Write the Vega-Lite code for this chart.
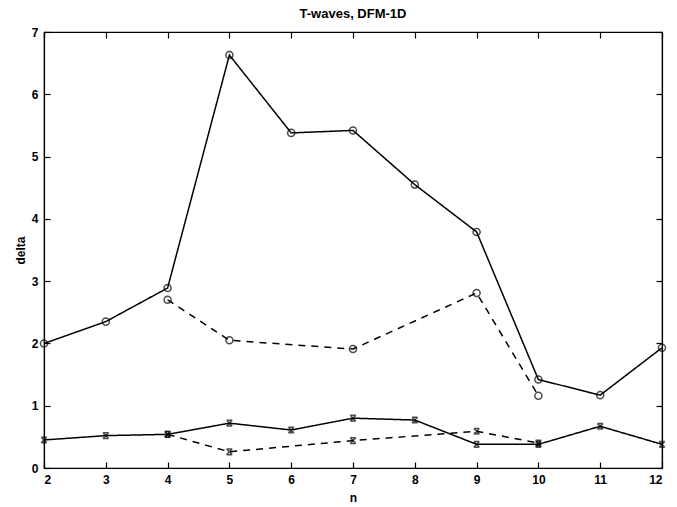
{
  "$schema": "https://vega.github.io/schema/vega-lite/v6.json",
  "autosize": "none",
  "width": 618,
  "height": 436,
  "padding": {"left": 44, "top": 32, "right": 15, "bottom": 39},
  "background": "white",
  "title": {"text": "T-waves, DFM-1D", "font": "Liberation Sans", "fontSize": 13, "fontWeight": "bold", "color": "black", "offset": 5},
  "config": {
    "view": {"stroke": "black", "strokeWidth": 1.2},
    "axis": {"labelFont": "Liberation Sans", "labelFontSize": 12, "labelFontWeight": "bold", "labelColor": "black", "titleFont": "Liberation Sans", "titleFontSize": 12, "titleFontWeight": "bold", "titleColor": "black", "domainColor": "black", "tickColor": "black", "grid": false, "tickSize": -6, "labelPadding": 12, "domainWidth": 1.2, "tickWidth": 1.2}
  },
  "data": {"values": [
    {"n": 2, "delta": 2.0, "series": "solid_o", "style": "solid", "marker": "o"},
    {"n": 3, "delta": 2.35, "series": "solid_o", "style": "solid", "marker": "o"},
    {"n": 4, "delta": 2.89, "series": "solid_o", "style": "solid", "marker": "o"},
    {"n": 5, "delta": 6.63, "series": "solid_o", "style": "solid", "marker": "o"},
    {"n": 6, "delta": 5.38, "series": "solid_o", "style": "solid", "marker": "o"},
    {"n": 7, "delta": 5.42, "series": "solid_o", "style": "solid", "marker": "o"},
    {"n": 8, "delta": 4.55, "series": "solid_o", "style": "solid", "marker": "o"},
    {"n": 9, "delta": 3.79, "series": "solid_o", "style": "solid", "marker": "o"},
    {"n": 10, "delta": 1.42, "series": "solid_o", "style": "solid", "marker": "o"},
    {"n": 11, "delta": 1.17, "series": "solid_o", "style": "solid", "marker": "o"},
    {"n": 12, "delta": 1.93, "series": "solid_o", "style": "solid", "marker": "o"},
    {"n": 4, "delta": 2.7, "series": "dashed_o", "style": "dashed", "marker": "o"},
    {"n": 5, "delta": 2.05, "series": "dashed_o", "style": "dashed", "marker": "o"},
    {"n": 7, "delta": 1.91, "series": "dashed_o", "style": "dashed", "marker": "o"},
    {"n": 9, "delta": 2.81, "series": "dashed_o", "style": "dashed", "marker": "o"},
    {"n": 10, "delta": 1.16, "series": "dashed_o", "style": "dashed", "marker": "o"},
    {"n": 2, "delta": 0.45, "series": "solid_x", "style": "solid", "marker": "x"},
    {"n": 3, "delta": 0.52, "series": "solid_x", "style": "solid", "marker": "x"},
    {"n": 4, "delta": 0.54, "series": "solid_x", "style": "solid", "marker": "x"},
    {"n": 5, "delta": 0.72, "series": "solid_x", "style": "solid", "marker": "x"},
    {"n": 6, "delta": 0.61, "series": "solid_x", "style": "solid", "marker": "x"},
    {"n": 7, "delta": 0.8, "series": "solid_x", "style": "solid", "marker": "x"},
    {"n": 8, "delta": 0.77, "series": "solid_x", "style": "solid", "marker": "x"},
    {"n": 9, "delta": 0.38, "series": "solid_x", "style": "solid", "marker": "x"},
    {"n": 10, "delta": 0.38, "series": "solid_x", "style": "solid", "marker": "x"},
    {"n": 11, "delta": 0.67, "series": "solid_x", "style": "solid", "marker": "x"},
    {"n": 12, "delta": 0.38, "series": "solid_x", "style": "solid", "marker": "x"},
    {"n": 4, "delta": 0.54, "series": "dashed_x", "style": "dashed", "marker": "x"},
    {"n": 5, "delta": 0.26, "series": "dashed_x", "style": "dashed", "marker": "x"},
    {"n": 7, "delta": 0.44, "series": "dashed_x", "style": "dashed", "marker": "x"},
    {"n": 9, "delta": 0.59, "series": "dashed_x", "style": "dashed", "marker": "x"},
    {"n": 10, "delta": 0.4, "series": "dashed_x", "style": "dashed", "marker": "x"}
  ]},
  "layer": [
    {
      "mark": {"type": "line", "color": "black", "strokeWidth": 1.5},
      "encoding": {
        "x": {"field": "n", "type": "quantitative", "scale": {"domain": [2, 12], "nice": false}, "axis": {"values": [2,3,4,5,6,7,8,9,10,11,12], "title": "n", "titlePadding": 7}},
        "y": {"field": "delta", "type": "quantitative", "scale": {"domain": [0, 7], "nice": false}, "axis": {"values": [0,1,2,3,4,5,6,7], "title": "delta", "titlePadding": 4}},
        "detail": {"field": "series"},
        "strokeDash": {"field": "style", "type": "nominal", "scale": {"domain": ["solid", "dashed"], "range": [[1, 0], [7, 6]]}, "legend": null}
      }
    },
    {
      "mark": {"type": "point", "color": "black", "filled": false, "strokeWidth": 1.5, "size": 50},
      "encoding": {
        "x": {"field": "n", "type": "quantitative", "axis": null},
        "y": {"field": "delta", "type": "quantitative", "axis": null},
        "shape": {"field": "marker", "type": "nominal", "scale": {"domain": ["o", "x"], "range": ["circle", "M-0.8,-0.8L0.8,0.8M-0.8,0.8L0.8,-0.8M-0.8,-0.8L0.8,-0.8M-0.8,0.8L0.8,0.8"]}, "legend": null}
      }
    },
    {
      "mark": {"type": "point", "opacity": 0},
      "encoding": {
        "x": {"field": "n", "type": "quantitative", "axis": {"orient": "top", "values": [2,3,4,5,6,7,8,9,10,11,12], "labels": false, "title": null}},
        "y": {"field": "delta", "type": "quantitative", "axis": {"orient": "right", "values": [0,1,2,3,4,5,6,7], "labels": false, "title": null}}
      }
    }
  ],
  "resolve": {"axis": {"x": "independent", "y": "independent"}}
}
